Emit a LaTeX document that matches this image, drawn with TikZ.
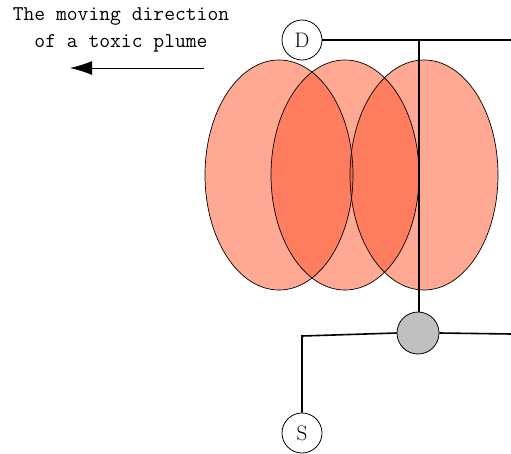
\documentclass[tikz,border=0pt]{standalone}
\usetikzlibrary{arrows.meta}
\definecolor{plume}{RGB}{255,83,43}
\definecolor{nodegray}{RGB}{192,192,192}
\begin{document}
\begin{tikzpicture}[x=1pt,y=-1pt,
  endpoint/.style={circle,draw,line width=0.8pt,fill=white,minimum size=40pt,inner sep=0pt,font=\fontsize{21}{21}\selectfont},
  junction/.style={circle,draw,line width=0.8pt,fill=nodegray,minimum size=42pt,inner sep=0pt},
  wire/.style={line width=1.6pt},
  plumefill/.style={fill=plume,fill opacity=0.5},
  plumeline/.style={draw=black,line width=0.7pt},
  label/.style={align=center,font=\ttfamily\fontsize{21}{27}\selectfont}]
\useasboundingbox (0,0) rectangle (511,453);
% plume ellipses
\fill[plumefill] (279,175) ellipse [x radius=74, y radius=115];
\fill[plumefill] (345,175) ellipse [x radius=74, y radius=115];
\fill[plumefill] (424,175) ellipse [x radius=74, y radius=115];
\draw[plumeline] (279,175) ellipse [x radius=74, y radius=115];
\draw[plumeline] (345,175) ellipse [x radius=74, y radius=115];
\draw[plumeline] (424,175) ellipse [x radius=74, y radius=115];
% nodes
\node[endpoint] (D) at (302,40) {D};
\node[endpoint] (S) at (302,433) {S};
\node[junction] (G) at (418,333) {};
\coordinate (r1) at (511,40);
\coordinate (j) at (419,40);
\coordinate (c1) at (302,336);
\coordinate (r2) at (511,334);
% wires
\draw[wire] (D) -- (r1);
\draw[wire] (j) -- (j |- G.north);
\draw[wire] (G.west) -- (c1) -- (S);
\draw[wire] (G.east) -- (r2);
% label and arrow
\node[label] (T) at (121,30) {The moving direction\\of a toxic plume};
\coordinate (a1) at (204,68);
\coordinate (a2) at (70,68);
\draw[line width=0.8pt,-{Latex[length=22pt,width=14pt]}] (a1) -- (a2);
\end{tikzpicture}
\end{document}
